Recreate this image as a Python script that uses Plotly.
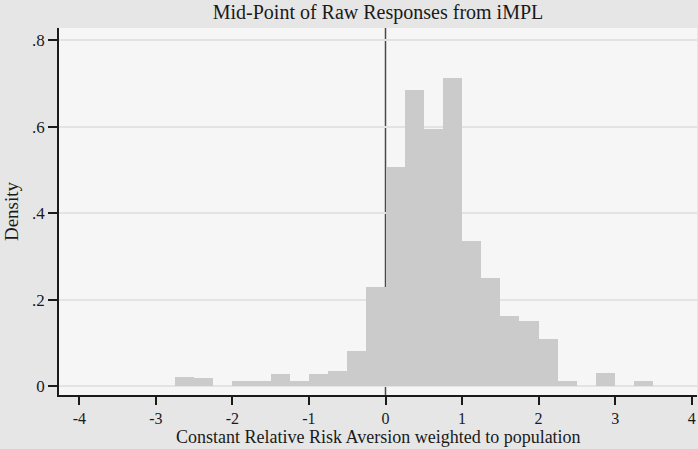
import plotly.graph_objects as go

# Histogram of CRRA mid-points (bin width 0.25), density scale
bin_width = 0.25
bin_start = [-2.75, -2.5, -2.25, -2.0, -1.75, -1.5, -1.25, -1.0, -0.75, -0.5, -0.25,
             0.0, 0.25, 0.5, 0.75, 1.0, 1.25, 1.5, 1.75, 2.0, 2.25, 2.5, 2.75, 3.0, 3.25]
density = [0.022, 0.018, 0.0, 0.012, 0.012, 0.028, 0.011, 0.028, 0.035, 0.082, 0.230,
           0.506, 0.685, 0.596, 0.714, 0.336, 0.249, 0.163, 0.150, 0.108, 0.012, 0.0, 0.029, 0.0, 0.012]

x_ticks = [-4, -3, -2, -1, 0, 1, 2, 3, 4]
x_ticktext = ["-4", "-3", "-2", "-1", "0", "1", "2", "3", "4"]
y_ticks = [0, 0.2, 0.4, 0.6, 0.8]
y_ticktext = ["0", ".2", ".4", ".6", ".8"]

centers = [s + bin_width / 2 for s in bin_start]

font_family = "Liberation Serif"
ink = "#1a1a1a"

fig = go.Figure()
fig.add_trace(go.Bar(
    x=centers, y=density, width=bin_width,
    marker=dict(color="#cbcbcb", line=dict(width=0)),
    hoverinfo="x+y",
))

# reference line at zero, drawn beneath the bars
fig.add_shape(type="line", xref="x", yref="paper", x0=0, x1=0, y0=0, y1=1,
              line=dict(color="#4a4a4a", width=1.5), layer="below")

# x-axis title placed as an annotation under the tick labels
fig.add_annotation(text="Constant Relative Risk Aversion weighted to population",
                   xref="paper", yref="paper", x=0.5, y=-0.1475,
                   xanchor="center", yanchor="bottom", showarrow=False,
                   font=dict(size=18, family=font_family, color=ink))

fig.update_layout(
    width=698, height=449,
    margin=dict(l=59, r=1, t=28, b=54),
    paper_bgcolor="#e6e6e6",
    plot_bgcolor="#f6f6f6",
    showlegend=False,
    bargap=0,
    font=dict(family=font_family, color=ink, size=16),
    title=dict(text="Mid-Point of Raw Responses from iMPL", x=0.5, xref="paper",
               y=0.973, yref="container", xanchor="center", yanchor="middle",
               font=dict(family=font_family, size=20, color=ink)),
    xaxis=dict(
        range=[-4.265, 4.069], tickvals=x_ticks, ticktext=x_ticktext,
        showgrid=False, zeroline=False, showline=True, linecolor=ink, linewidth=1.5,
        ticks="outside", ticklen=8, tickwidth=1.5, tickcolor=ink,
        tickfont=dict(size=16, family=font_family, color=ink),
    ),
    yaxis=dict(
        range=[-0.0208, 0.8287], tickvals=y_ticks, ticktext=y_ticktext,
        showgrid=True, gridcolor="#e3e3e3", gridwidth=1.5,
        zeroline=False, showline=True, linecolor=ink, linewidth=1.5,
        ticks="outside", ticklen=9, tickwidth=1.5, tickcolor=ink,
        tickfont=dict(size=17, family=font_family, color=ink),
        title=dict(text="Density", font=dict(size=19, family=font_family, color=ink), standoff=8),
    ),
)

fig.write_html("out.html")
